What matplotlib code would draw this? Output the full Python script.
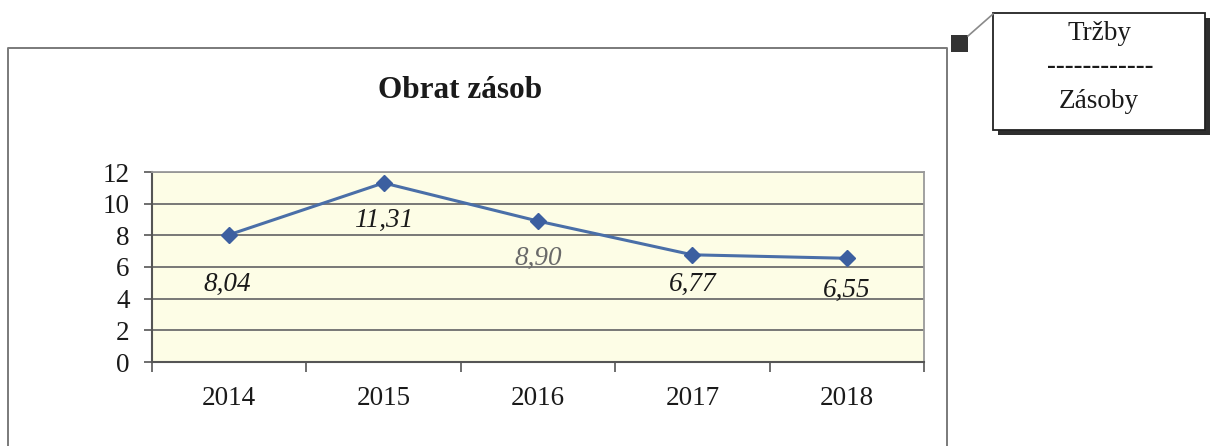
import matplotlib
matplotlib.use("Agg")
import matplotlib.pyplot as plt
from matplotlib.patches import Rectangle
from matplotlib.lines import Line2D

# data
years = ["2014", "2015", "2016", "2017", "2018"]
obrat = [8.04, 11.31, 8.90, 6.77, 6.55]
labels = ["8,04", "11,31", "8,90", "6,77", "6,55"]
y_ticks = [0, 2, 4, 6, 8, 10, 12]

W, H = 1215, 446
SERIF = "Liberation Serif"


def px(x, y):
    # pixel (top-left origin) -> figure fraction
    return x / W, 1 - y / H


fig = plt.figure(figsize=(W / 100, H / 100), dpi=100)
fig.patch.set_facecolor("white")

# outer chart frame (bottom is cut off in the reference)
frame_x = [8, 8, 947, 947]
frame_y = [H + 5, 48, 48, H + 5]
fig.add_artist(Line2D([x / W for x in frame_x], [1 - y / H for y in frame_y],
                      transform=fig.transFigure, color="#7a7a7a", lw=1.4))

fig.text(*px(460, 90), "Obrat zásob", family=SERIF, weight="bold",
         fontsize=22.5, ha="center", va="center", color="#1a1a1a")

l, t = px(152, 172)
r, b = px(924, 362)
ax = fig.add_axes([l, b, r - l, t - b])
ax.set_facecolor("#fdfde6")

x = list(range(len(years)))
ax.plot(x, obrat, color="#4a6fa8", lw=2.2, marker="D", markersize=8,
        markerfacecolor="#3c5fa0", markeredgecolor="#3c5fa0", zorder=3)

offsets = [(-2, -50), (0, -37), (0, -37), (0, -30), (0, -32)]
for i, (val, lab) in enumerate(zip(obrat, labels)):
    col = "#6a6a6a" if i == 2 else "#1a1a1a"
    ax.annotate(lab, (i, val), xytext=offsets[i], textcoords="offset pixels",
                ha="center", va="center", family=SERIF, style="italic",
                fontsize=19.5, color=col)

ax.set_xlim(-0.5, len(years) - 0.5)
ax.set_ylim(0, 12)
ax.set_yticks(y_ticks)
ax.set_yticklabels([str(v) for v in y_ticks])
ax.set_xticks(x)
ax.set_xticklabels(years)
ax.set_xticks([i - 0.5 for i in range(len(years) + 1)], minor=True)
ax.tick_params(axis="x", which="major", length=0, pad=17)
ax.tick_params(axis="x", which="minor", length=7, width=1.2, color="#555555")
ax.tick_params(axis="y", length=6, width=1.2, color="#555555", pad=10)
for lab in ax.get_xticklabels() + ax.get_yticklabels():
    lab.set_family(SERIF)
    lab.set_fontsize(19.5)
    lab.set_color("#1a1a1a")

ax.grid(axis="y", color="#6e6e6e", lw=1.3)
ax.set_axisbelow(True)
for side in ["top", "right"]:
    ax.spines[side].set_color("#9a9a9a")
    ax.spines[side].set_linewidth(1.3)
for side in ["left", "bottom"]:
    ax.spines[side].set_color("#555555")
    ax.spines[side].set_linewidth(1.5)

# callout box with formula
bx0, by0, bx1, by1 = 993, 13, 1205, 130
sh = 5
x0, y0 = px(bx0 + sh, by1 + sh)
x1, y1 = px(bx1 + sh, by0 + sh)
fig.add_artist(Rectangle((x0, y0), x1 - x0, y1 - y0, transform=fig.transFigure,
                         facecolor="#2e2e2e", edgecolor="none"))
x0, y0 = px(bx0, by1)
x1, y1 = px(bx1, by0)
fig.add_artist(Rectangle((x0, y0), x1 - x0, y1 - y0, transform=fig.transFigure,
                         facecolor="white", edgecolor="#222222", lw=1.3))
sx0, sy0 = px(951, 52)
sx1, sy1 = px(968, 35)
fig.add_artist(Rectangle((sx0, sy0), sx1 - sx0, sy1 - sy0, transform=fig.transFigure,
                         facecolor="#333333", edgecolor="none"))
fig.add_artist(Line2D([968 / W, 993 / W], [1 - 36 / H, 1 - 14 / H],
                      transform=fig.transFigure, color="#8a8a8a", lw=1.2))

fig.text(*px(1100, 33), "Tržby", family=SERIF, fontsize=19.5,
         ha="center", va="center", color="#1a1a1a")
fig.text(*px(1100, 66), "------------", family=SERIF, fontsize=19,
         weight="bold", ha="center", va="center", color="#1a1a1a")
fig.text(*px(1099, 101), "Zásoby", family=SERIF, fontsize=19.5,
         ha="center", va="center", color="#1a1a1a")

fig.savefig("out.png", dpi=100)
